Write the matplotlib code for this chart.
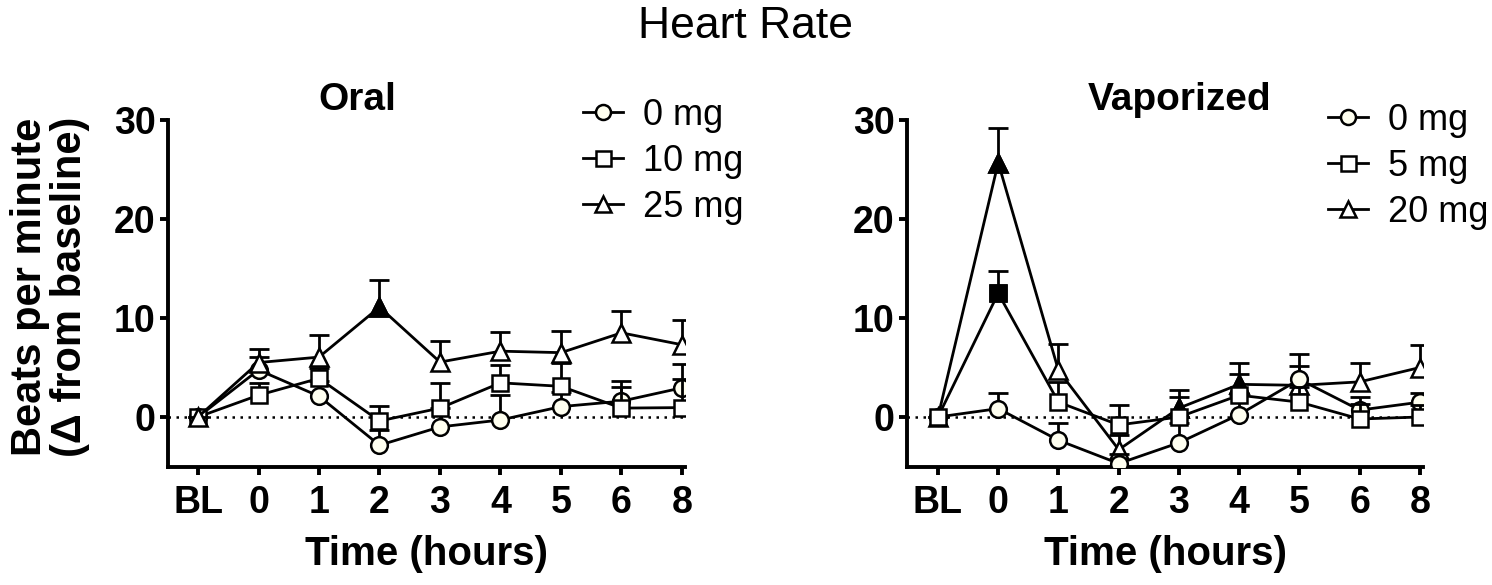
import matplotlib.pyplot as plt
import numpy as np

plt.rcParams['font.family'] = ['Liberation Sans', 'DejaVu Sans']

# time points (categorical)
times = ['BL', '0', '1', '2', '3', '4', '5', '6', '8']

# Oral: mean change and upper SEM
oral_labels = ['0 mg', '10 mg', '25 mg']
oral_0 = [0, 4.75, 2.1, -2.85, -1.0, -0.3, 1.05, 1.6, 2.95]
oral_0_err = [0, 1.35, 1.5, 1.5, 1.9, 2.5, 1.5, 2.0, 2.45]
oral_10 = [0, 2.2, 3.9, -0.4, 0.9, 3.45, 3.1, 0.9, 0.95]
oral_10_err = [0, 1.2, 1.0, 1.5, 2.5, 1.85, 2.4, 2.1, 2.85]
oral_25 = [0, 5.5, 6.05, 11.1, 5.55, 6.65, 6.5, 8.5, 7.3]
oral_25_err = [0, 1.4, 2.25, 2.75, 2.15, 1.9, 2.15, 2.2, 2.45]
oral_25_filled = [3]

# Vaporized
vap_labels = ['0 mg', '5 mg', '20 mg']
vap_0 = [0, 0.85, -2.35, -4.7, -2.6, 0.25, 3.8, 0.7, 1.5]
vap_0_err = [0, 1.6, 1.75, 1.0, 2.0, 2.0, 2.6, 1.3, 0.9]
vap_5 = [0, 12.5, 1.5, -0.8, 0.0, 2.2, 1.5, -0.2, 0.0]
vap_5_err = [0, 2.2, 2.0, 2.0, 2.0, 2.1, 1.5, 1.5, 1.2]
vap_5_filled = [1]
vap_20 = [0, 25.7, 4.7, -3.3, 0.9, 3.3, 3.2, 3.55, 5.0]
vap_20_err = [0, 3.5, 2.7, 1.5, 1.8, 2.15, 1.95, 1.95, 2.3]
vap_20_filled = [1, 4, 5]

CREAM = '#fffff0'
LW = 2.0
SPINE = 2.8


def draw_series(ax, y, err, marker, face, label, filled, z, ms):
    x = np.arange(len(y))
    y = np.asarray(y, float)
    err = np.asarray(err, float)
    top = y + err
    # upper-only SEM bars
    ax.vlines(x, y, top, color='k', lw=LW, zorder=z)
    ax.plot(x, top, ls='none', marker='_', ms=14, mew=LW, color='k', zorder=z)
    ax.plot(x, y, color='k', lw=LW, marker=marker, ms=ms, mfc=face, mec='k',
            mew=1.8, label=label, zorder=z + 0.5)
    if filled:
        # significant points are drawn solid
        ax.plot(x[filled], y[filled], ls='none', marker=marker, ms=ms,
                mfc='k', mec='k', mew=1.8, zorder=z + 0.6)


def style_axis(ax, xmin):
    ax.set_xlim(xmin, 8.05)
    ax.set_ylim(-5.05, 30)
    ax.set_xticks(range(len(times)))
    ax.set_xticklabels(times)
    ax.set_yticks([0, 10, 20, 30])
    for s in ['top', 'right']:
        ax.spines[s].set_visible(False)
    for s in ['left', 'bottom']:
        ax.spines[s].set_linewidth(SPINE)
    ax.tick_params(width=SPINE, length=6, labelsize=27)
    ax.tick_params(axis='x', pad=7)
    ax.tick_params(axis='y', pad=3)
    for lab in ax.get_xticklabels() + ax.get_yticklabels():
        lab.set_fontweight('bold')
    ax.axhline(0, color='k', ls=(0, (1, 2.2)), lw=1.8, zorder=1)
    ax.set_xlabel('Time (hours)', fontsize=29, fontweight='bold', labelpad=10)


fig = plt.figure(figsize=(14.92, 5.85), dpi=100)
W, H = 1492, 585
ax1 = fig.add_axes([168 / W, 1 - 467 / H, (685 - 168) / W, (467 - 120) / H])
ax2 = fig.add_axes([907 / W, 1 - 467 / H, (1423 - 907) / W, (467 - 120) / H])

# left panel: circles under squares under triangles
draw_series(ax1, oral_0, oral_0_err, 'o', CREAM, oral_labels[0], [], 3, 12)
draw_series(ax1, oral_10, oral_10_err, 's', 'white', oral_labels[1], [], 4, 12)
draw_series(ax1, oral_25, oral_25_err, '^', 'white', oral_labels[2], oral_25_filled, 5, 13)
style_axis(ax1, -0.496)

# right panel: triangles under circles under squares
draw_series(ax2, vap_0, vap_0_err, 'o', CREAM, vap_labels[0], [], 4, 12)
draw_series(ax2, vap_5, vap_5_err, 's', 'white', vap_labels[1], vap_5_filled, 5, 12)
draw_series(ax2, vap_20, vap_20_err, '^', 'white', vap_labels[2], vap_20_filled, 3, 13)
style_axis(ax2, -0.514)

ax1.set_ylabel('Beats per minute\n(\u0394 from baseline)', fontsize=30,
               fontweight='bold', linespacing=1.0)
ax1.yaxis.set_label_coords(-0.150, 0.52)

for ax, anchor in [(ax1, (583 / W, 1 - 98 / H)), (ax2, (1328 / W, 1 - 103 / H))]:
    h, l = ax.get_legend_handles_labels()
    fig.legend(h, l, loc='upper left', bbox_to_anchor=anchor, frameon=False,
               fontsize=26, handlelength=1.1, handletextpad=0.55,
               labelspacing=0.3, borderpad=0, borderaxespad=0, markerscale=0.9)

fig.text(357 / W, 1 - 100 / H, 'Oral', fontsize=28, fontweight='bold',
         ha='center', va='center')
fig.text(1180 / W, 1 - 100 / H, 'Vaporized', fontsize=28, fontweight='bold',
         ha='center', va='center')
fig.suptitle('Heart Rate', fontsize=32, y=1 - 26 / H, va='center')

fig.savefig('out.png', dpi=100)
